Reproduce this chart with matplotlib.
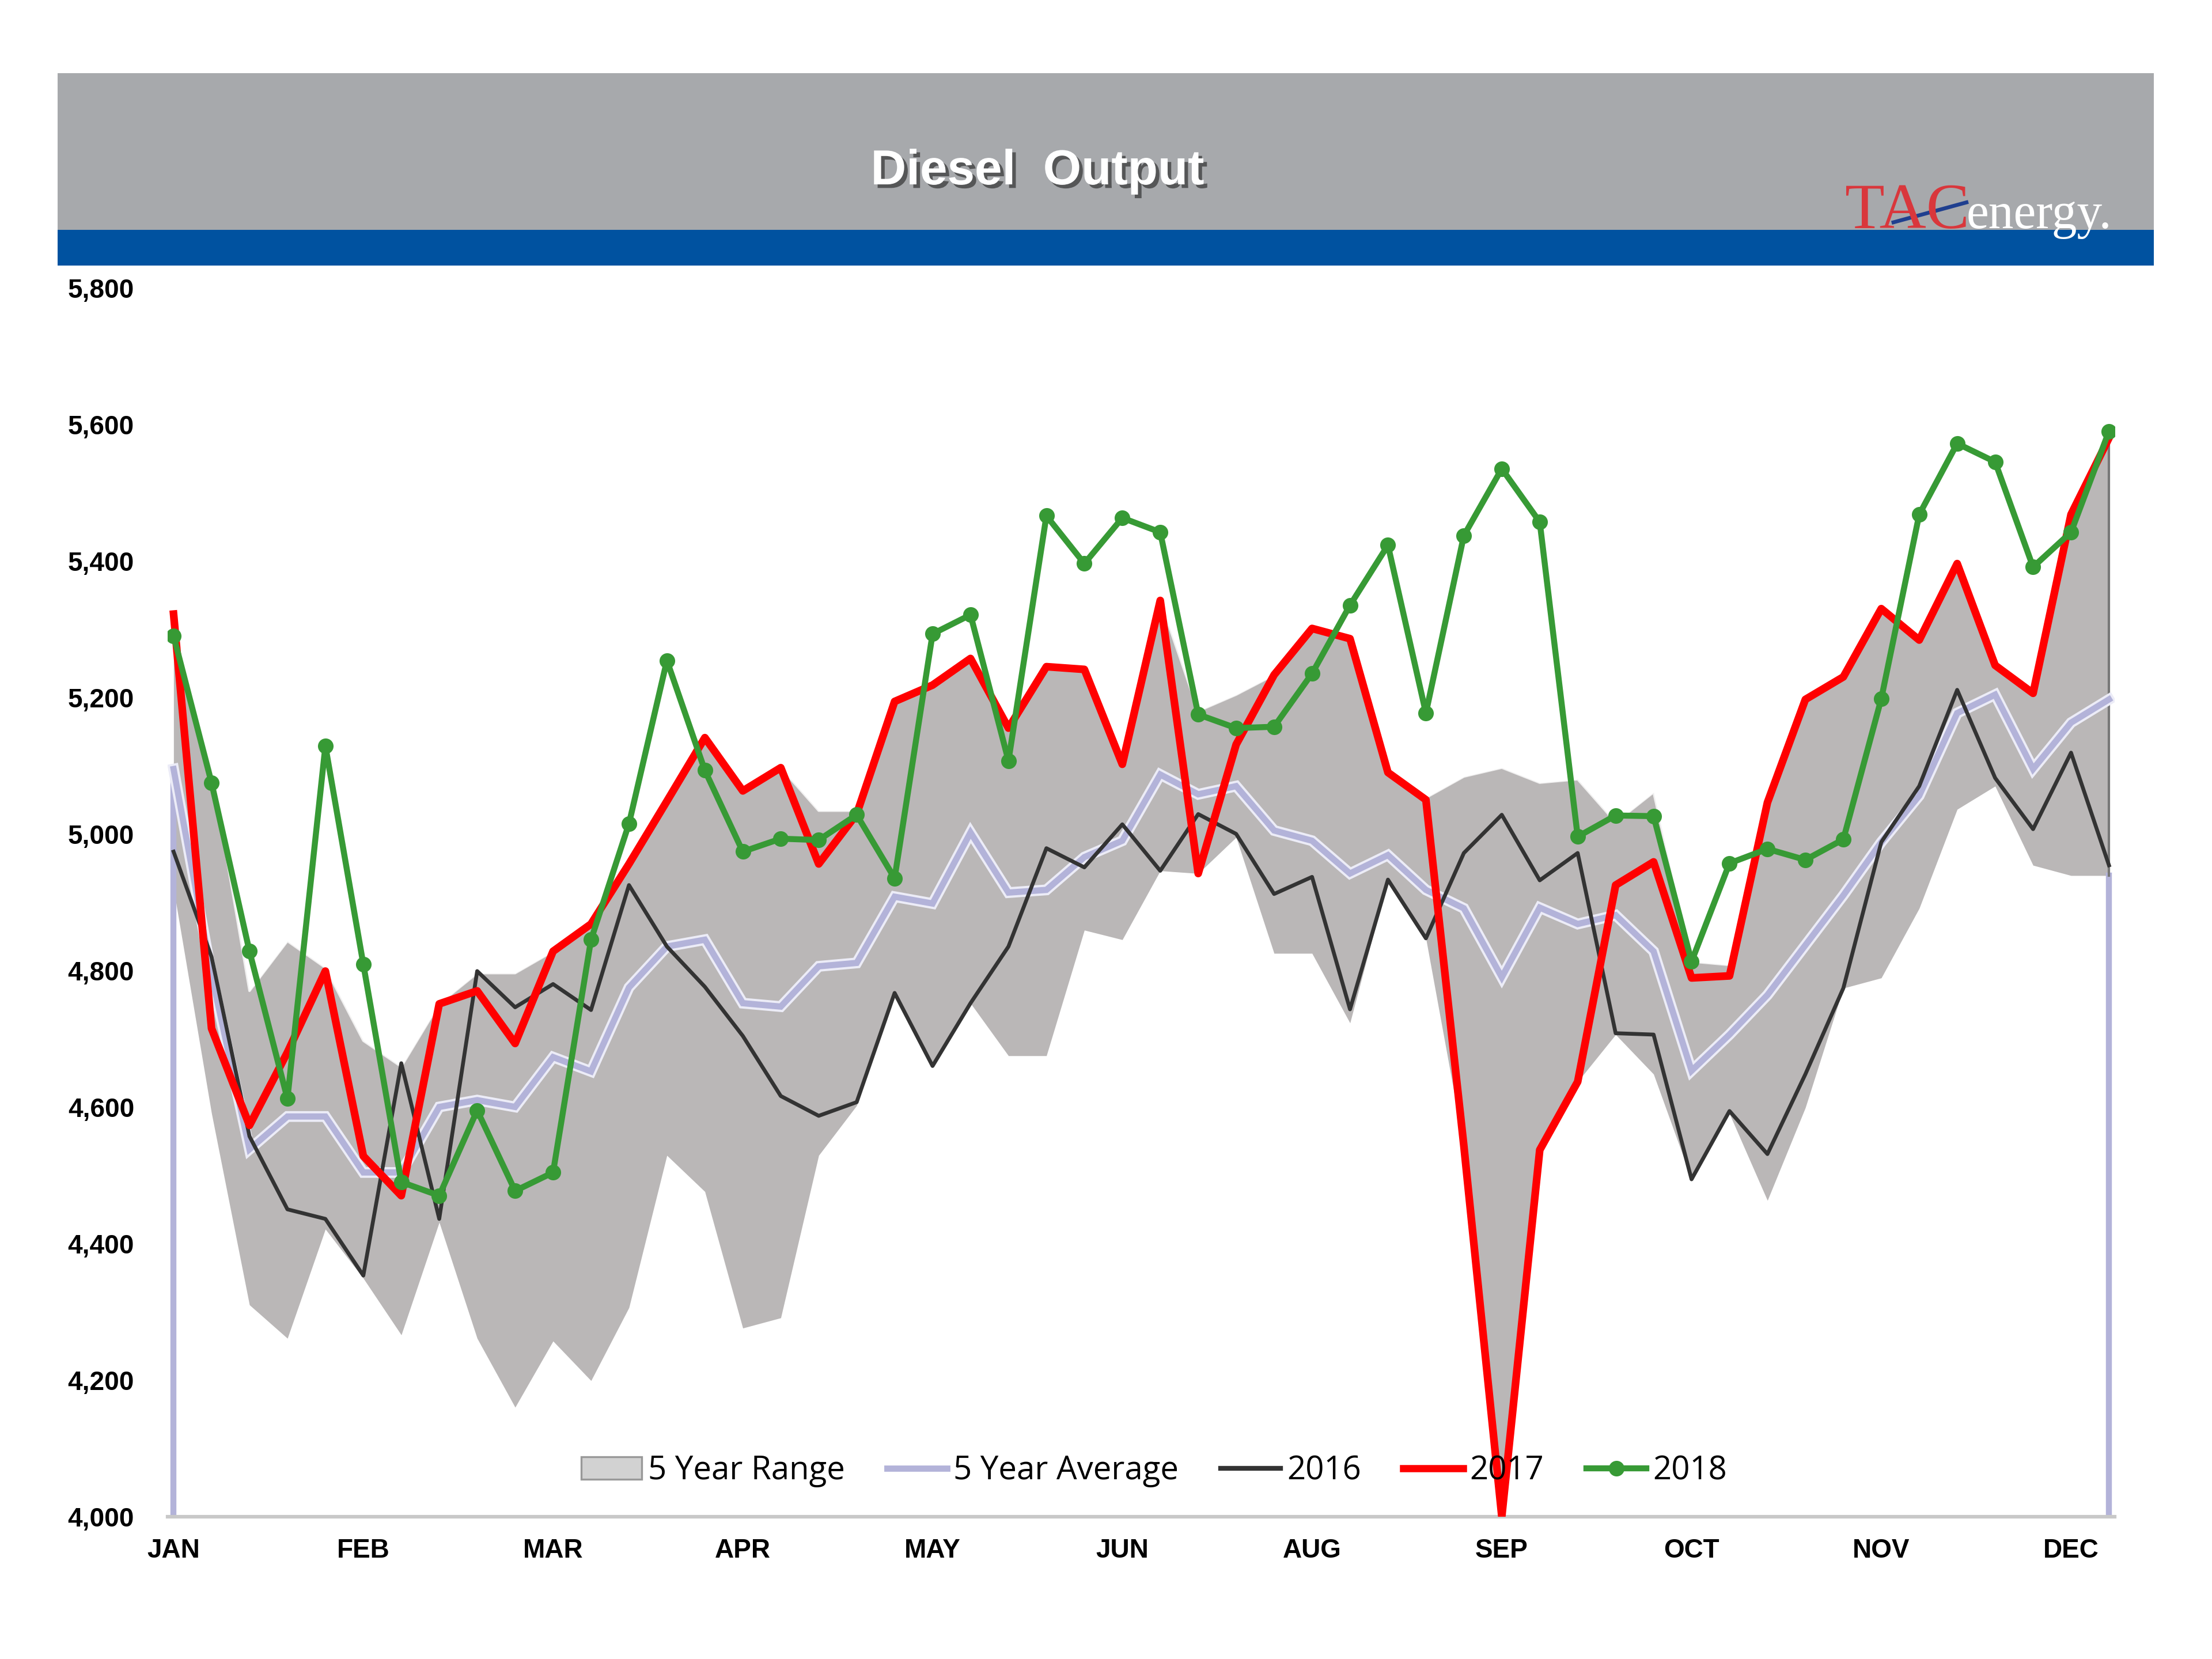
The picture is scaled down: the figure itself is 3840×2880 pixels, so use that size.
import matplotlib.pyplot as plt
import matplotlib.patheffects as pe
from matplotlib.lines import Line2D
from matplotlib.patches import Patch, Rectangle
import numpy as np

# weekly diesel output, kb/d
weeks = np.arange(52)
month_labels = ['JAN', 'FEB', 'MAR', 'APR', 'MAY', 'JUN', 'AUG', 'SEP', 'OCT', 'NOV', 'DEC']
month_ticks = [0, 5, 10, 15, 20, 25, 30, 35, 40, 45, 50]

range_hi = [5290, 5095, 4770, 4843, 4804, 4697, 4659, 4751, 4796, 4796,
            4828, 4872, 4960, 5050, 5141, 5063, 5097, 5034, 5034, 5194,
            5218, 5257, 5155, 5245, 5241, 5102, 5342, 5180, 5204, 5233,
            5301, 5286, 5090, 5053, 5084, 5097, 5075, 5080, 5017, 5061,
            4813, 4808, 5046, 5197, 5230, 5330, 5284, 5396, 5247, 5206,
            5468, 5580]
range_lo = [4920, 4591, 4310, 4261, 4421, 4349, 4266, 4431, 4261, 4160,
            4257, 4199, 4306, 4529, 4476, 4276, 4291, 4529, 4602, 4767,
            4660, 4752, 4675, 4675, 4859, 4845, 4946, 4942, 4995, 4825,
            4825, 4723, 4934, 4847, 4543, 4000, 4537, 4637, 4706, 4648,
            4494, 4590, 4463, 4599, 4774, 4789, 4891, 5036, 5070, 4954,
            4939, 4939]
avg5 = [5095, 4794, 4538, 4586, 4586, 4504, 4504, 4600, 4610, 4600,
        4673, 4652, 4775, 4835, 4845, 4752, 4747, 4806, 4811, 4908,
        4898, 5002, 4914, 4918, 4966, 4990, 5087, 5058, 5070, 5005,
        4990, 4942, 4969, 4918, 4891, 4790, 4892, 4868, 4881, 4828,
        4653, 4706, 4764, 4837, 4910, 4988, 5056, 5177, 5204, 5095,
        5163, 5197]
y2016 = [4974, 4820, 4557, 4450, 4436, 4353, 4664, 4436, 4799, 4746,
         4780, 4742, 4925, 4835, 4776, 4704, 4616, 4587, 4607, 4767,
         4660, 4752, 4835, 4979, 4951, 5014, 4946, 5029, 5000, 4912,
         4937, 4743, 4933, 4847, 4972, 5028, 4932, 4972, 4708, 4706,
         4494, 4594, 4531, 4648, 4774, 4988, 5070, 5211, 5082, 5007,
         5119, 4954]
y2017 = [5322, 4715, 4573, 4680, 4799, 4528, 4470, 4751, 4770, 4693,
         4828, 4868, 4956, 5048, 5141, 5063, 5097, 4956, 5029, 5194,
         5218, 5257, 5155, 5245, 5241, 5102, 5342, 4942, 5131, 5233,
         5301, 5286, 5090, 5050, 4543, 4000, 4537, 4637, 4925, 4959,
         4789, 4792, 5046, 5197, 5230, 5330, 5284, 5396, 5247, 5206,
         5468, 5580]
y2018 = [5290, 5075, 4828, 4612, 5129, 4809, 4490, 4470, 4595, 4477,
         4504, 4845, 5015, 5254, 5093, 4974, 4993, 4991, 5028, 4935,
         5293, 5321, 5107, 5466, 5396, 5463, 5442, 5175, 5155, 5157,
         5235, 5335, 5423, 5177, 5437, 5535, 5457, 4996, 5027, 5026,
         4813, 4957, 4978, 4962, 4992, 5198, 5468, 5572, 5545, 5391,
         5442, 5590]

c_range = '#bab7b7'
c_avg = '#b3b3d9'
c_16 = '#333333'
c_17 = '#ff0000'
c_18 = '#379a35'

fig = plt.figure(figsize=(12.8, 9.6), dpi=300)

# header bands
fig.add_artist(Rectangle((0.0261, 0.8614), 0.9477, 0.0944, transform=fig.transFigure,
                         facecolor='#a7a9ac', edgecolor='none'))
fig.add_artist(Rectangle((0.0261, 0.8401), 0.9477, 0.0213, transform=fig.transFigure,
                         facecolor='#0052a0', edgecolor='none'))
fig.text(0.469, 0.8965, 'Diesel  Output', color='white', fontsize=20.5, fontweight='bold',
         family='Liberation Sans', ha='center', va='center',
         path_effects=[pe.withSimplePatchShadow(offset=(1.5, -1.5), shadow_rgbFace='#333333', alpha=0.7)])

# logo
fig.text(0.834, 0.8625, 'TAC', color='#d9373c', fontsize=27, family='Liberation Serif',
         ha='left', va='baseline')
fig.text(0.889, 0.8625, 'energy.', color='white', fontsize=21, family='Liberation Serif',
         ha='left', va='baseline')
fig.add_artist(Line2D([0.856, 0.889], [0.866, 0.878], transform=fig.transFigure,
                      color='#1f3f8f', lw=1.6))

ax = fig.add_axes([0.0759, 0.0859, 0.8801, 0.7406])

ax.fill_between(weeks, range_lo, range_hi, color=c_range, lw=0, zorder=1)
ax.plot(weeks, range_hi, color='white', lw=1.0, alpha=0.8, zorder=2)
ax.plot([0, 0], [4000, avg5[0]], color=c_avg, lw=2.5, zorder=2)
ax.plot([51, 51], [4000, range_lo[-1]], color=c_avg, lw=2.5, zorder=2)
ax.plot([51, 51], [range_lo[-1], range_hi[-1]], color='#777777', lw=1.0, zorder=2)

ax.plot(weeks, avg5, color='#ececf7', lw=4.5, zorder=3, solid_joinstyle='miter')
ax.plot(weeks, avg5, color=c_avg, lw=2.6, zorder=3, solid_joinstyle='miter')
ax.plot(weeks, y2016, color=c_16, lw=1.6, zorder=4)
ax.plot(weeks, y2017, color=c_17, lw=3.2, zorder=5)
ax.plot(weeks, y2018, color=c_18, lw=2.5, marker='o', ms=5.5, zorder=6)

ax.set_xlim(-0.15, 51.15)
ax.set_ylim(4000, 5800)
ax.set_yticks(np.arange(4000, 5801, 200))
ax.set_yticklabels([f'{v:,}' for v in range(4000, 5801, 200)])
ax.set_xticks(month_ticks)
ax.set_xticklabels(month_labels)
for lab in ax.get_xticklabels() + ax.get_yticklabels():
    lab.set_family('Liberation Sans')
    lab.set_fontweight('bold')
    lab.set_fontsize(11)
ax.tick_params(axis='y', length=0, pad=14)
ax.tick_params(axis='x', length=0, pad=9)

for s in ['top', 'right', 'left']:
    ax.spines[s].set_visible(False)
ax.spines['bottom'].set_color('#c8c8c8')
ax.spines['bottom'].set_linewidth(1.5)

handles = [
    Patch(facecolor='#d2d2d2', edgecolor='#999999', lw=0.8),
    Line2D([], [], color=c_avg, lw=2.6),
    Line2D([], [], color=c_16, lw=2),
    Line2D([], [], color=c_17, lw=3),
    Line2D([], [], color=c_18, lw=2.5, marker='o', ms=5.5),
]
names = ['5 Year Range', '5 Year Average', '2016', '2017', '2018']
leg = ax.legend(handles, names, loc='center', bbox_to_anchor=(0.5066, 0.037), ncol=5,
                frameon=False, handlelength=1.85, handletextpad=0.2, columnspacing=1.3,
                prop={'family': 'Open Sans', 'size': 13.5})
leg.set_zorder(10)

fig.savefig('out.png', dpi=300, facecolor='white')
